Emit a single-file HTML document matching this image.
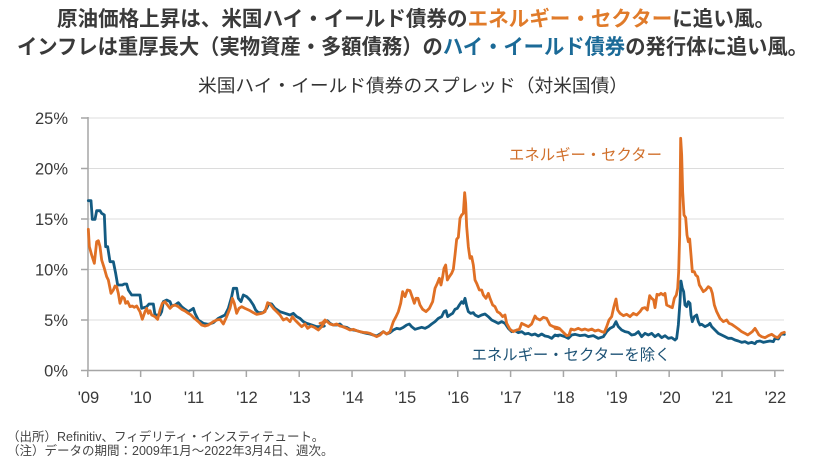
<!DOCTYPE html>
<html><head><meta charset="utf-8">
<style>
html,body{margin:0;padding:0;background:#fff;}
svg{display:block;font-family:"Liberation Sans","Noto Sans CJK JP",sans-serif;}
</style></head>
<body>
<svg width="825" height="464" viewBox="0 0 825 464" xmlns="http://www.w3.org/2000/svg">
<rect width="825" height="464" fill="#fff"/>
<!-- titles -->
<text x="416" y="26" font-size="21" font-weight="bold" fill="#3a3a3a" text-anchor="middle" textLength="718" lengthAdjust="spacingAndGlyphs" font-family="'Liberation Sans','Noto Sans CJK JP',sans-serif">原油価格上昇は、米国ハイ・イールド債券の<tspan fill="#E07B2A">エネルギー・セクター</tspan>に追い風。</text>
<text x="412.5" y="54" font-size="21" font-weight="bold" fill="#3a3a3a" text-anchor="middle" textLength="791" lengthAdjust="spacingAndGlyphs" font-family="'Liberation Sans','Noto Sans CJK JP',sans-serif">インフレは重厚長大（実物資産・多額債務）の<tspan fill="#1B6A97">ハイ・イールド債券</tspan>の発行体に追い風。</text>
<text x="413" y="92" font-size="18" fill="#333" text-anchor="middle" textLength="430" lengthAdjust="spacingAndGlyphs" font-family="'Liberation Sans','Noto Sans CJK JP',sans-serif">米国ハイ・イールド債券のスプレッド（対米国債）</text>

<!-- gridlines -->
<g stroke="#dcdcdc" stroke-width="1">
<line x1="88" y1="118" x2="784" y2="118"/>
<line x1="88" y1="168.5" x2="784" y2="168.5"/>
<line x1="88" y1="219" x2="784" y2="219"/>
<line x1="88" y1="269.5" x2="784" y2="269.5"/>
<line x1="88" y1="320" x2="784" y2="320"/>
</g>
<!-- axes -->
<g stroke="#a6a6a6" stroke-width="1.5">
<line x1="88" y1="117" x2="88" y2="371"/>
<line x1="81" y1="370.5" x2="784" y2="370.5"/>
<line x1="81" y1="118" x2="88" y2="118"/>
<line x1="81" y1="168.5" x2="88" y2="168.5"/>
<line x1="81" y1="219" x2="88" y2="219"/>
<line x1="81" y1="269.5" x2="88" y2="269.5"/>
<line x1="81" y1="320" x2="88" y2="320"/>
<line x1="87.8" y1="370" x2="87.8" y2="377"/>
<line x1="140.65" y1="370" x2="140.65" y2="377"/>
<line x1="193.5" y1="370" x2="193.5" y2="377"/>
<line x1="246.35" y1="370" x2="246.35" y2="377"/>
<line x1="299.2" y1="370" x2="299.2" y2="377"/>
<line x1="352.05" y1="370" x2="352.05" y2="377"/>
<line x1="404.9" y1="370" x2="404.9" y2="377"/>
<line x1="457.75" y1="370" x2="457.75" y2="377"/>
<line x1="510.6" y1="370" x2="510.6" y2="377"/>
<line x1="563.45" y1="370" x2="563.45" y2="377"/>
<line x1="616.3" y1="370" x2="616.3" y2="377"/>
<line x1="669.15" y1="370" x2="669.15" y2="377"/>
<line x1="722" y1="370" x2="722" y2="377"/>
<line x1="774.85" y1="370" x2="774.85" y2="377"/>
</g>
<!-- y labels -->
<g font-size="16.5" fill="#3a3a3a" text-anchor="end">
<text x="68" y="124">25%</text>
<text x="68" y="174.5">20%</text>
<text x="68" y="225">15%</text>
<text x="68" y="275.5">10%</text>
<text x="68" y="326">5%</text>
<text x="68" y="376.5">0%</text>
</g>
<!-- x labels -->
<g font-size="16.5" fill="#3a3a3a" text-anchor="middle">
<text x="88.5" y="403">'09</text>
<text x="141" y="403">'10</text>
<text x="194" y="403">'11</text>
<text x="247" y="403">'12</text>
<text x="300" y="403">'13</text>
<text x="353" y="403">'14</text>
<text x="405.5" y="403">'15</text>
<text x="458.5" y="403">'16</text>
<text x="511" y="403">'17</text>
<text x="564" y="403">'18</text>
<text x="617" y="403">'19</text>
<text x="670" y="403">'20</text>
<text x="722.5" y="403">'21</text>
<text x="775.5" y="403">'22</text>
</g>

<!-- series: blue (ex-energy) -->
<g fill="none" stroke="#135B82" stroke-width="2.8" stroke-linejoin="round" stroke-linecap="round">
<polyline vector-effect="non-scaling-stroke" transform="translate(85,180) scale(0.33333)" points="10,62 18,62 22,118 30,118 35,92 45,92 50,100 58,105 62,200 68,200 75,245 85,245 92,280 98,315 112,315 118,312 125,312 130,330 140,345 165,345 170,385 185,380 192,372 205,372 210,405 225,405 230,395 235,365 245,360 255,365 260,378 270,375 280,368 290,380 300,388 310,395 318,390 325,385 330,400 340,420 355,430 370,433 385,428 400,415 410,410 420,405 430,385 440,350 445,325 455,325 460,355 468,365 475,345 485,350 495,360 505,375 512,390 520,398 535,398 545,385 552,370 560,372 570,385 585,395 600,400 615,405 625,400 635,410 645,415 655,425 665,430 680,435 695,440 710,440 718,438"/>
<polyline vector-effect="non-scaling-stroke" transform="translate(320,180) scale(0.33333)" points="0,440 8,435 15,425 22,422 30,430 40,435 50,435 60,432 68,440 80,442 90,448 100,450 110,452 120,455 130,458 140,460 150,462 160,465 170,468 180,462 190,455 200,462 210,458 220,450 230,445 240,447 250,442 260,435 268,432 275,440 285,448 295,445 305,442 315,445 325,440 335,432 345,425 355,415 365,410 372,395 378,392 383,410 390,405 398,400 405,388 412,385 418,375 425,365 430,370 435,355 440,378 445,395 452,400 460,398 465,405 475,410 485,405 495,402 505,410 515,420 525,425 535,430 545,425 555,430 565,445 575,455 585,452 595,458 605,455 615,462 625,460 635,465 645,462 655,468 665,462 675,468 685,470 695,475 705,465 715,468"/>
<polyline vector-effect="non-scaling-stroke" transform="translate(555,125) scale(0.33333)" points="0,632 15,630 30,635 40,640 50,630 60,628 75,632 90,630 100,635 115,632 130,640 145,635 155,620 165,610 175,605 183,590 190,605 200,615 210,620 220,622 230,630 240,628 250,620 260,635 270,625 280,630 290,625 300,635 310,628 320,638 330,632 340,640 350,638 360,645 365,640 370,600 375,530 378,468 382,490 386,500 390,540 395,545 400,530 405,535 408,570 412,590 418,575 425,570 430,590 435,600 440,598 450,605 460,600 465,595 470,605 480,615 490,625 500,630 510,635 520,640 530,640 540,645 550,648 560,652 570,650 580,655 590,652 600,656 605,650 615,648 625,652 635,650 645,648 655,650 660,640 670,642 675,632 680,625 688,628"/>
</g>

<!-- series: orange (energy) -->
<g fill="none" stroke="#E07025" stroke-width="2.8" stroke-linejoin="round" stroke-linecap="round">
<polyline vector-effect="non-scaling-stroke" transform="translate(85,180) scale(0.33333)" points="10,148 13,200 20,225 28,250 35,185 40,182 45,200 50,240 58,265 65,290 70,300 78,340 85,330 90,318 95,320 100,340 105,370 112,350 118,355 122,370 128,365 135,380 142,378 148,382 155,378 165,395 172,418 180,395 185,385 190,400 195,392 200,405 210,410 218,418 225,390 232,370 240,365 245,372 255,385 262,378 270,375 280,380 290,388 300,393 310,400 318,405 328,415 340,425 350,435 360,438 370,435 385,425 395,420 405,418 415,432 425,410 435,385 442,355 448,370 455,400 462,385 470,380 480,385 495,392 505,398 515,403 530,400 540,395 548,368 555,372 565,385 575,395 585,405 595,420 605,415 615,425 622,410 630,420 640,430 650,440 660,432 668,445 678,438 688,442 700,450 710,440 718,428"/>
<polyline vector-effect="non-scaling-stroke" transform="translate(320,180) scale(0.33333)" points="0,430 8,428 15,420 22,425 30,432 40,435 50,432 60,438 68,440 80,445 90,450 100,448 110,452 120,455 130,457 140,458 150,460 160,465 170,470 180,465 190,455 200,462 210,455 220,425 228,410 235,395 242,370 248,335 255,350 262,330 270,332 277,352 283,370 288,355 294,355 300,375 308,388 318,395 328,385 338,365 345,325 352,310 358,295 363,315 368,290 372,265 377,255 382,300 388,290 395,280 400,268 405,225 410,178 415,172 420,115 425,105 430,100 434,38 437,70 440,140 445,200 450,235 455,230 460,255 465,300 470,310 478,330 485,330 490,345 498,355 505,340 510,355 518,375 525,380 532,395 540,400 548,410 555,405 560,430 570,448 580,455 590,450 598,448 605,430 615,435 625,440 635,432 645,408 650,415 660,420 670,412 680,415 690,435 700,440 710,442 718,445"/>
<polyline vector-effect="non-scaling-stroke" transform="translate(555,125) scale(0.33333)" points="0,610 15,612 25,622 35,632 42,630 48,612 58,615 70,610 80,615 90,612 100,616 110,612 120,618 130,615 140,620 148,622 155,605 162,585 170,575 176,548 183,522 188,555 195,565 205,572 215,568 225,575 235,565 245,570 255,560 262,550 270,548 277,555 284,512 290,520 296,525 300,548 306,508 312,510 318,505 325,510 330,505 335,540 345,545 352,548 358,520 364,510 368,490 371,440 374,330 377,40 380,90 383,200 387,270 392,278 396,330 400,350 404,342 408,390 412,440 418,440 422,450 428,455 433,480 438,488 445,500 452,495 460,485 467,490 472,505 478,540 485,560 495,580 505,590 515,585 522,595 530,598 540,605 550,612 560,620 570,625 578,630 585,625 592,620 600,610 605,618 612,630 620,635 630,638 640,632 650,628 660,635 668,638 675,630 680,625 688,622"/>
</g>

<!-- series labels -->
<text x="509" y="160" font-size="15.5" fill="#D0702C" textLength="153" lengthAdjust="spacingAndGlyphs">エネルギー・セクター</text>
<text x="471.5" y="360" font-size="15.5" fill="#1D5275" textLength="199" lengthAdjust="spacingAndGlyphs">エネルギー・セクターを除く</text>

<!-- footnotes -->
<text x="7" y="441" font-size="12.5" fill="#444">（出所）Refinitiv、フィデリティ・インスティテュート。</text>
<text x="7" y="455" font-size="12.5" fill="#444">（注）データの期間：2009年1月～2022年3月4日、週次。</text>
</svg>
</body></html>
